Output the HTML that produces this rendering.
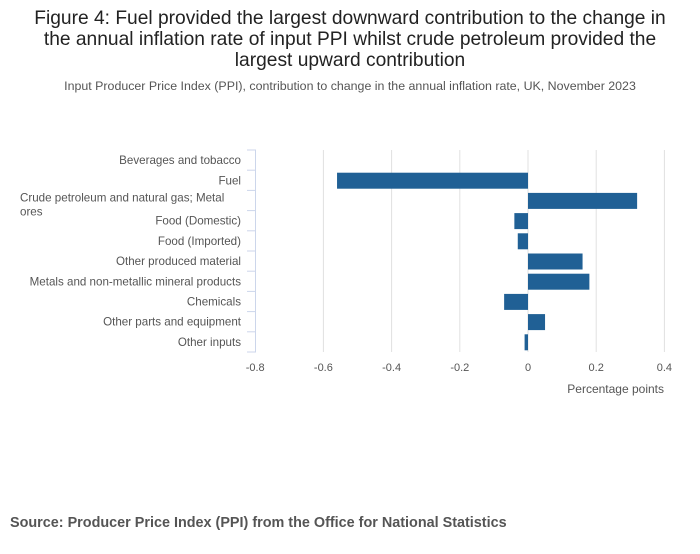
<!DOCTYPE html>
<html><head><meta charset="utf-8"><style>
body{margin:0;background:#fff;width:700px;height:549px;overflow:hidden;font-family:"Liberation Sans","DejaVu Sans",sans-serif;}
</style></head><body>
<svg width="700" height="549" xmlns="http://www.w3.org/2000/svg">
<text x="350" y="24" text-anchor="middle" font-size="19.2" fill="#222">Figure 4: Fuel provided the largest downward contribution to the change in</text>
<text x="350" y="45" text-anchor="middle" font-size="19.2" fill="#222">the annual inflation rate of input PPI whilst crude petroleum provided the</text>
<text x="350" y="66" text-anchor="middle" font-size="19.2" fill="#222">largest upward contribution</text>
<text x="350" y="90" text-anchor="middle" font-size="12.4" fill="#555">Input Producer Price Index (PPI), contribution to change in the annual inflation rate, UK, November 2023</text>
<g id="grid"></g><g id="bars"></g><g id="axes"></g>
<text x="664" y="393" text-anchor="end" font-size="12" fill="#555">Percentage points</text>
<text x="10" y="527" font-size="14.4" font-weight="bold" fill="#555">Source: Producer Price Index (PPI) from the Office for National Statistics</text>
</svg>
<script>
const categories=["Beverages and tobacco","Fuel","Crude petroleum and natural gas; Metal ores","Food (Domestic)","Food (Imported)","Other produced material","Metals and non-metallic mineral products","Chemicals","Other parts and equipment","Other inputs"];
const values=[0,-0.56,0.32,-0.04,-0.03,0.16,0.18,-0.07,0.05,-0.01];
const xTicks=[-0.8,-0.6,-0.4,-0.2,0,0.2,0.4];
const NS="http://www.w3.org/2000/svg";
const xs=v=>528+v*341;
const plotTop=150,band=20.2;
const ys=i=>plotTop+i*band;
function mk(t,a,p){const e=document.createElementNS(NS,t);for(const k in a)e.setAttribute(k,a[k]);p.appendChild(e);return e;}
const grid=document.getElementById('grid'),bars=document.getElementById('bars'),axes=document.getElementById('axes');
xTicks.forEach(t=>{
 if(t!==-0.8){const l=mk('line',{x1:xs(t),x2:xs(t),y1:plotTop,y2:plotTop+band*10,stroke:'#e0e0e0'},grid);
 
 }
 const tx=mk('text',{x:xs(t),y:371,'text-anchor':'middle','font-size':11,fill:'#555'},axes);
 tx.textContent=String(t);
 
 
});
values.forEach((v,i)=>{
 const r=mk('rect',{x:Math.min(xs(0),xs(v)),y:ys(i)+2.5,width:Math.abs(xs(v)-xs(0)),height:16,fill:'#206095'},bars);
 
 
});
mk('line',{x1:255.5,x2:255.5,y1:plotTop,y2:plotTop+band*10,stroke:'#ccd6eb'},axes);
for(let i=0;i<=10;i++){mk('line',{x1:247,x2:256,y1:ys(i),y2:ys(i),stroke:'#ccd6eb'},axes);}
categories.forEach((c,i)=>{
 const cy=ys(i)+band/2+4;
 if(c.indexOf('Crude')===0){
  const t1=mk('text',{x:20,y:cy-3,'font-size':11.6,fill:'#555'},axes);t1.textContent='Crude petroleum and natural gas; Metal';
  
  
  const t2=mk('text',{x:20,y:cy+11,'font-size':11.6,fill:'#555'},axes);t2.textContent='ores';
  
  
 } else {
  const t=mk('text',{x:241,y:cy,'text-anchor':'end','font-size':11.6,fill:'#555'},axes);t.textContent=c;
  
  
 }
});
</script>
</body></html>
